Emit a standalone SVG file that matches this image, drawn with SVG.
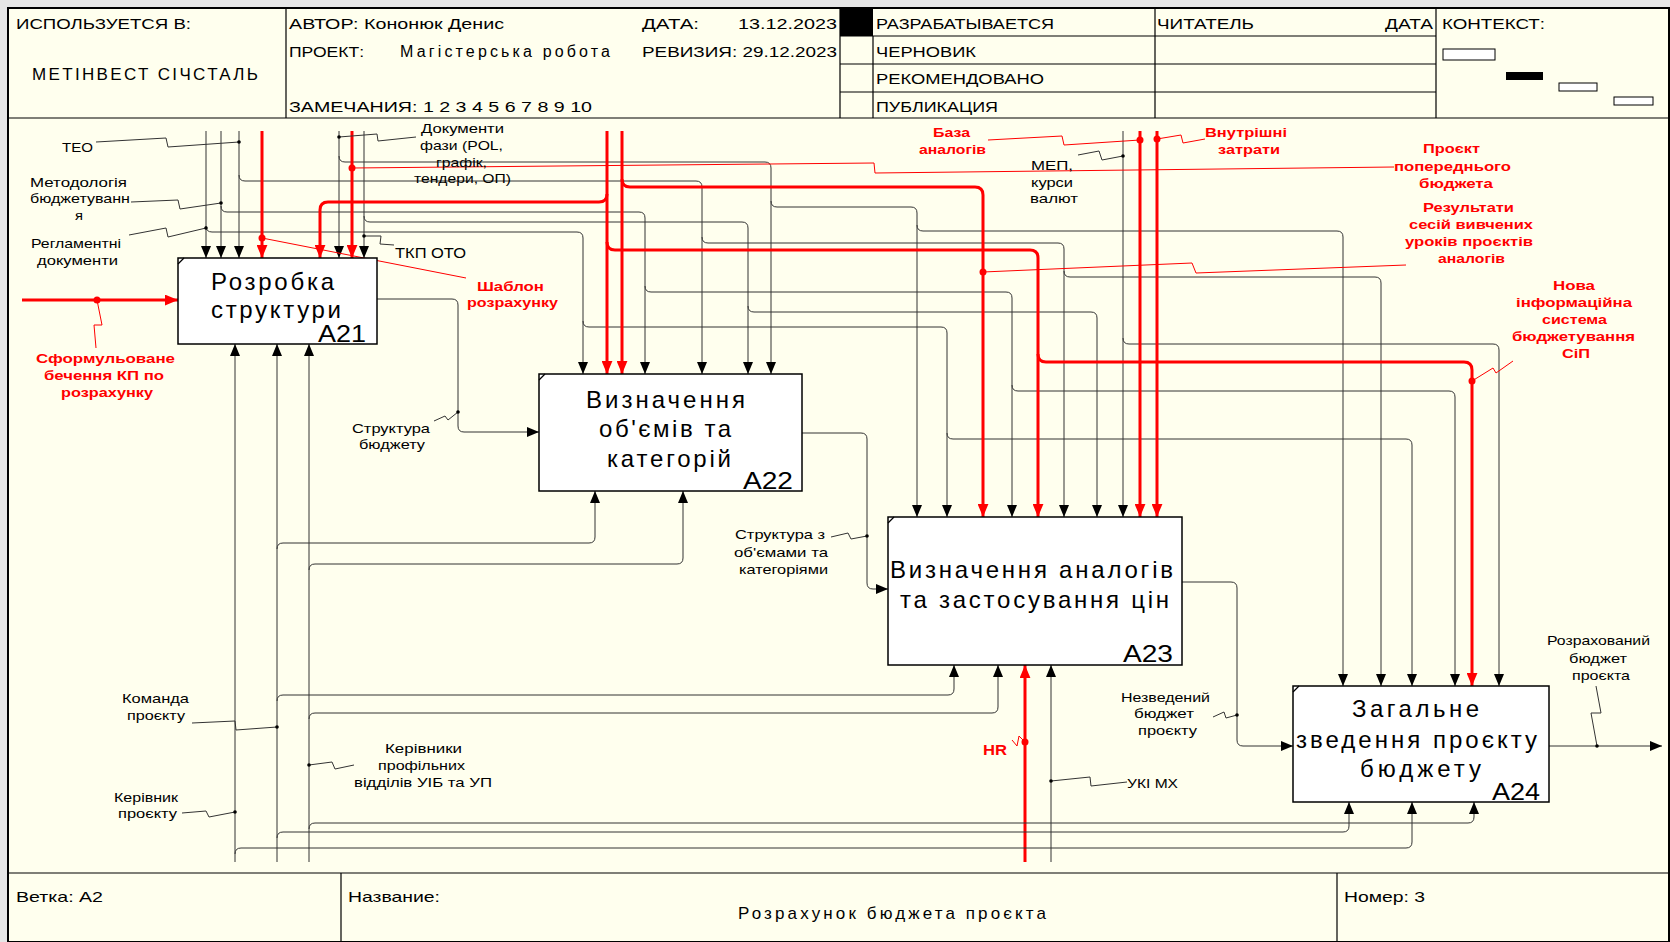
<svg xmlns="http://www.w3.org/2000/svg" width="1670" height="942" viewBox="0 0 1670 942">
<defs>
<marker id="ab" viewBox="0 0 12 10" refX="12" refY="5" markerWidth="12" markerHeight="10" markerUnits="userSpaceOnUse" orient="auto"><path d="M0,0 L12,5 L0,10 z" fill="#000"/></marker>
<marker id="ar" viewBox="0 0 12 10" refX="12" refY="5" markerWidth="13" markerHeight="11" markerUnits="userSpaceOnUse" orient="auto"><path d="M0,0 L12,5 L0,10 z" fill="#f00"/></marker>
</defs>
<style>
text{font-family:"Liberation Sans",Arial,sans-serif;fill:#000}
.h{font-size:14px}
.f{font-size:15px}
.l{font-size:13px}
.r{fill:#f00;font-weight:bold;font-size:13px}
.bt{font-size:24px}
.bn{font-size:24px}
.k{fill:none;stroke:#333;stroke-width:1}
.kr{fill:none;stroke:#f00;stroke-width:3}
.ld{fill:none;stroke:#333;stroke-width:1}
.lr{fill:none;stroke:#f00;stroke-width:1}
.box{fill:#fff;stroke:#000;stroke-width:1.5}
.ln{stroke:#000;stroke-width:1.2;fill:none}
</style>
<rect x="0" y="0" width="1670" height="942" fill="#e6e6e6"/>
<g id="frame">
<rect x="8" y="8" width="1661" height="934" fill="#ffffee" stroke="#000" stroke-width="2"/>
<path class="ln" d="M8 118 H1670 M8 873 H1670 M286 8 V118 M840 8 V118 M873 36 V118 M1155 8 V118 M1436 8 V118 M840 36 H1436 M840 64 H1436 M840 92 H1436 M341 873 V942 M1337 873 V942"/>
<rect x="840" y="8" width="33" height="28" fill="#000"/>
<rect x="1443" y="49" width="52" height="11" fill="#fff" stroke="#000" stroke-width="1"/>
<rect x="1506" y="72" width="37" height="8" fill="#000"/>
<rect x="1559" y="83" width="38" height="8" fill="#fff" stroke="#000" stroke-width="1"/>
<rect x="1614" y="97" width="39" height="8" fill="#fff" stroke="#000" stroke-width="1"/>
<text class="h" x="16" y="29" textLength="175" lengthAdjust="spacingAndGlyphs">ИСПОЛЬЗУЕТСЯ В:</text>
<text x="32" y="80" style="font-size:17px" textLength="226" lengthAdjust="spacing">МЕТІНВЕСТ СІЧСТАЛЬ</text>
<text class="h" x="289" y="29" textLength="215" lengthAdjust="spacingAndGlyphs">АВТОР: Кононюк Денис</text>
<text class="h" x="289" y="57" textLength="75" lengthAdjust="spacingAndGlyphs">ПРОЕКТ:</text>
<text x="400" y="57" style="font-size:16px" textLength="210" lengthAdjust="spacing">Магістерська робота</text>
<text class="h" x="642" y="29" textLength="57" lengthAdjust="spacingAndGlyphs">ДАТА:</text>
<text class="h" x="738" y="29" textLength="99" lengthAdjust="spacingAndGlyphs">13.12.2023</text>
<text class="h" x="642" y="57" textLength="195" lengthAdjust="spacingAndGlyphs">РЕВИЗИЯ: 29.12.2023</text>
<text class="h" x="289" y="112" textLength="303" lengthAdjust="spacingAndGlyphs">ЗАМЕЧАНИЯ: 1 2 3 4 5 6 7 8 9 10</text>
<text class="h" x="876" y="29" textLength="178" lengthAdjust="spacingAndGlyphs">РАЗРАБАТЫВАЕТСЯ</text>
<text class="h" x="876" y="57" textLength="100" lengthAdjust="spacingAndGlyphs">ЧЕРНОВИК</text>
<text class="h" x="876" y="84" textLength="168" lengthAdjust="spacingAndGlyphs">РЕКОМЕНДОВАНО</text>
<text class="h" x="876" y="112" textLength="122" lengthAdjust="spacingAndGlyphs">ПУБЛИКАЦИЯ</text>
<text class="h" x="1157" y="29" textLength="97" lengthAdjust="spacingAndGlyphs">ЧИТАТЕЛЬ</text>
<text class="h" x="1385" y="29" textLength="48" lengthAdjust="spacingAndGlyphs">ДАТА</text>
<text class="h" x="1442" y="29" textLength="103" lengthAdjust="spacingAndGlyphs">КОНТЕКСТ:</text>
<text class="f" x="16" y="902" textLength="87" lengthAdjust="spacingAndGlyphs">Ветка: А2</text>
<text class="f" x="348" y="902" textLength="92" lengthAdjust="spacingAndGlyphs">Название:</text>
<text x="738" y="919" style="font-size:17px" textLength="308" lengthAdjust="spacing">Розрахунок бюджета проєкта</text>
<text class="f" x="1344" y="902" textLength="81" lengthAdjust="spacingAndGlyphs">Номер: 3</text>
</g>
<g id="connectors">
<path class="k" marker-end="url(#ab)" d="M206 131 V258"/>
<path class="k" marker-end="url(#ab)" d="M206 226 Q206 232 212 232 H577 Q583 232 583 238 V374"/>
<path class="k" marker-end="url(#ab)" d="M583 321 Q583 327 589 327 H941 Q947 327 947 333 V517"/>
<path class="k" marker-end="url(#ab)" d="M947 433 Q947 439 953 439 H1406 Q1412 439 1412 445 V686"/>
<path class="k" marker-end="url(#ab)" d="M221 131 V258"/>
<path class="k" marker-end="url(#ab)" d="M221 206 Q221 212 227 212 H639 Q645 212 645 218 V374"/>
<path class="k" marker-end="url(#ab)" d="M645 286 Q645 292 651 292 H1006 Q1012 292 1012 298 V517"/>
<path class="k" marker-end="url(#ab)" d="M1012 385 Q1012 391 1018 391 H1449 Q1455 391 1455 397 V686"/>
<path class="k" marker-end="url(#ab)" d="M239 131 V258"/>
<path class="k" marker-end="url(#ab)" d="M239 175 Q239 181 245 181 H696 Q702 181 702 187 V374"/>
<path class="k" marker-end="url(#ab)" d="M702 237 Q702 243 708 243 H1058 Q1064 243 1064 249 V517"/>
<path class="k" marker-end="url(#ab)" d="M1064 271 Q1064 277 1070 277 H1375 Q1381 277 1381 283 V686"/>
<path class="k" marker-end="url(#ab)" d="M339 131 V258"/>
<path class="k" marker-end="url(#ab)" d="M339 156 Q339 162 345 162 H765 Q771 162 771 168 V374"/>
<path class="k" marker-end="url(#ab)" d="M771 201 Q771 207 777 207 H911 Q917 207 917 213 V517"/>
<path class="k" marker-end="url(#ab)" d="M917 225 Q917 231 923 231 H1337 Q1343 231 1343 237 V686"/>
<path class="k" marker-end="url(#ab)" d="M364 131 V258"/>
<path class="k" marker-end="url(#ab)" d="M364 216 Q364 222 370 222 H742 Q748 222 748 228 V374"/>
<path class="k" marker-end="url(#ab)" d="M748 306 Q748 312 754 312 H1091 Q1097 312 1097 318 V517"/>
<path class="k" marker-end="url(#ab)" d="M1123 131 V517"/>
<path class="k" marker-end="url(#ab)" d="M1123 338 Q1123 344 1129 344 H1493 Q1499 344 1499 350 V686"/>
<path class="kr" marker-end="url(#ar)" d="M262 131 V258"/>
<path class="kr" marker-end="url(#ar)" d="M352 131 V258"/>
<path class="kr" marker-end="url(#ar)" d="M607 131 V374"/>
<path class="kr" marker-end="url(#ar)" d="M607 194 Q607 202 599 202 H328 Q320 202 320 210 V258"/>
<path class="kr" marker-end="url(#ar)" d="M607 242 Q607 250 615 250 H1030 Q1038 250 1038 258 V517"/>
<path class="kr" marker-end="url(#ar)" d="M1038 354 Q1038 362 1046 362 H1464 Q1472 362 1472 370 V686"/>
<path class="kr" marker-end="url(#ar)" d="M622 131 V374"/>
<path class="kr" marker-end="url(#ar)" d="M622 179 Q622 187 630 187 H975 Q983 187 983 195 V517"/>
<path class="kr" marker-end="url(#ar)" d="M1140 131 V517"/>
<path class="kr" marker-end="url(#ar)" d="M1157 131 V517"/>
<path class="kr" marker-end="url(#ar)" d="M22 300 H178"/>
<path class="kr" marker-end="url(#ar)" d="M1025 862 V665"/>
<path class="k" marker-end="url(#ab)" d="M235 862 V344"/>
<path class="k" marker-end="url(#ab)" d="M235 854 Q235 848 241 848 H1406 Q1412 848 1412 842 V802"/>
<path class="k" marker-end="url(#ab)" d="M277 862 V344"/>
<path class="k" marker-end="url(#ab)" d="M277 549 Q277 543 283 543 H589 Q595 543 595 537 V491"/>
<path class="k" marker-end="url(#ab)" d="M277 701 Q277 695 283 695 H948 Q954 695 954 689 V665"/>
<path class="k" marker-end="url(#ab)" d="M277 838 Q277 832 283 832 H1343 Q1349 832 1349 826 V802"/>
<path class="k" marker-end="url(#ab)" d="M309 862 V344"/>
<path class="k" marker-end="url(#ab)" d="M309 570 Q309 564 315 564 H677 Q683 564 683 558 V491"/>
<path class="k" marker-end="url(#ab)" d="M309 719 Q309 713 315 713 H992 Q998 713 998 707 V665"/>
<path class="k" marker-end="url(#ab)" d="M309 829 Q309 823 315 823 H1468 Q1474 823 1474 817 V802"/>
<path class="k" marker-end="url(#ab)" d="M1051 862 V665"/>
<path class="k" marker-end="url(#ab)" d="M377 299 H452 Q458 299 458 305 V426 Q458 432 464 432 H539"/>
<path class="k" marker-end="url(#ab)" d="M802 433 H861 Q867 433 867 439 V583 Q867 589 873 589 H888"/>
<path class="k" marker-end="url(#ab)" d="M1182 582 H1231 Q1237 582 1237 588 V740 Q1237 746 1243 746 H1293"/>
<path class="k" marker-end="url(#ab)" d="M1549 746 H1662"/>
<path class="ld" d="M96 142 L166 138 L168 147 L239 142"/>
<path class="ld" d="M131 202 L178 200 L180 209 L221 203"/>
<path class="ld" d="M129 235 L166 228 L168 237 L206 228"/>
<path class="ld" d="M339 137 L377 134 L378 141 L416 137"/>
<path class="ld" d="M364 236 L381 236 L380 244 L394 245"/>
<path class="ld" d="M1123 156 L1102 160 L1099 151 L1078 155"/>
<path class="ld" d="M458 412 L448 420 L445 416 L434 421"/>
<path class="ld" d="M867 536 L851 539 L848 533 L831 537"/>
<path class="ld" d="M1237 715 L1226 718 L1224 712 L1213 717"/>
<path class="ld" d="M1597 746 L1591 713 L1601 713 L1596 686"/>
<path class="ld" d="M192 723 L235 721 L236 730 L277 727"/>
<path class="ld" d="M182 813 L206 811 L209 817 L235 812"/>
<path class="ld" d="M309 765 L332 762 L335 769 L354 765"/>
<path class="ld" d="M1051 781 L1090 777 L1091 786 L1127 782"/>
<path class="lr" d="M262 238 L364 258 L466 278"/>
<path class="lr" d="M97 300 L102 325 L94 325 L96 348"/>
<path class="lr" d="M352 168 L874 163 L875 173 L1394 167"/>
<path class="lr" d="M988 140 L1062 136 L1064 145 L1140 140"/>
<path class="lr" d="M1157 139 L1181 135 L1183 143 L1205 139"/>
<path class="lr" d="M983 272 L1192 263 L1196 273 L1406 265"/>
<path class="lr" d="M1472 381 L1493 368 L1496 373 L1513 361"/>
<path class="lr" d="M1025 742 L1019 736 L1017 746 L1012 740"/>
<g fill="#000">
<circle cx="239" cy="142" r="1.8"/><circle cx="221" cy="203" r="1.8"/><circle cx="206" cy="228" r="1.8"/>
<circle cx="339" cy="137" r="1.8"/><circle cx="364" cy="236" r="1.8"/><circle cx="458" cy="412" r="1.8"/>
<circle cx="867" cy="536" r="1.8"/><circle cx="1123" cy="156" r="1.8"/><circle cx="1237" cy="715" r="1.8"/>
<circle cx="1597" cy="746" r="1.8"/><circle cx="235" cy="812" r="1.8"/><circle cx="277" cy="727" r="1.8"/>
<circle cx="309" cy="765" r="1.8"/><circle cx="1051" cy="781" r="1.8"/>
</g>
<g fill="#f00">
<circle cx="97" cy="300" r="3.5"/><circle cx="262" cy="238" r="3.5"/><circle cx="352" cy="168" r="3.5"/>
<circle cx="983" cy="272" r="3.5"/><circle cx="1472" cy="381" r="3.5"/><circle cx="1140" cy="140" r="3.5"/>
<circle cx="1157" cy="139" r="3.5"/><circle cx="1025" cy="742" r="3.5"/>
</g>
</g>
<g id="A21">
<rect class="box" x="178" y="258" width="199" height="86"/>
<path class="ln" d="M178 264 L184 258"/>
<text class="bt" x="211" y="290" textLength="123" lengthAdjust="spacing">Розробка</text>
<text class="bt" x="211" y="318" textLength="130" lengthAdjust="spacing">структури</text>
<text class="bn" x="318" y="342" textLength="48" lengthAdjust="spacingAndGlyphs">A21</text>
</g>
<g id="A22">
<rect class="box" x="539" y="374" width="263" height="117"/>
<path class="ln" d="M539 380 L545 374"/>
<text class="bt" x="586" y="408" textLength="159" lengthAdjust="spacing">Визначення</text>
<text class="bt" x="599" y="437" textLength="132" lengthAdjust="spacing">об'ємів та</text>
<text class="bt" x="607" y="467" textLength="124" lengthAdjust="spacing">категорій</text>
<text class="bn" x="743" y="489" textLength="50" lengthAdjust="spacingAndGlyphs">A22</text>
</g>
<g id="A23">
<rect class="box" x="888" y="517" width="294" height="148"/>
<path class="ln" d="M888 523 L894 517"/>
<text class="bt" x="890" y="578" textLength="283" lengthAdjust="spacing">Визначення аналогів</text>
<text class="bt" x="900" y="608" textLength="269" lengthAdjust="spacing">та застосування цін</text>
<text class="bn" x="1123" y="662" textLength="50" lengthAdjust="spacingAndGlyphs">A23</text>
</g>
<g id="A24">
<rect class="box" x="1293" y="686" width="256" height="116"/>
<path class="ln" d="M1293 692 L1299 686"/>
<text class="bt" x="1352" y="717" textLength="127" lengthAdjust="spacing">Загальне</text>
<text class="bt" x="1296" y="748" textLength="241" lengthAdjust="spacing">зведення проєкту</text>
<text class="bt" x="1360" y="777" textLength="121" lengthAdjust="spacing">бюджету</text>
<text class="bn" x="1492" y="800" textLength="48" lengthAdjust="spacingAndGlyphs">A24</text>
</g>
<g id="labels">
<text class="l" x="62" y="152" textLength="31" lengthAdjust="spacingAndGlyphs">ТЕО</text>
<text class="l" x="30" y="187" textLength="97" lengthAdjust="spacingAndGlyphs">Методологія</text>
<text class="l" x="30" y="203" textLength="100" lengthAdjust="spacingAndGlyphs">бюджетуванн</text>
<text class="l" x="75" y="220" textLength="8" lengthAdjust="spacingAndGlyphs">я</text>
<text class="l" x="31" y="248" textLength="90" lengthAdjust="spacingAndGlyphs">Регламентні</text>
<text class="l" x="37" y="265" textLength="81" lengthAdjust="spacingAndGlyphs">документи</text>
<text class="l" x="421" y="133" textLength="83" lengthAdjust="spacingAndGlyphs">Документи</text>
<text class="l" x="420" y="150" textLength="83" lengthAdjust="spacingAndGlyphs">фази (POL,</text>
<text class="l" x="436" y="167" textLength="51" lengthAdjust="spacingAndGlyphs">графік,</text>
<text class="l" x="414" y="183" textLength="97" lengthAdjust="spacingAndGlyphs">тендери, ОП)</text>
<text class="l" x="395" y="258" textLength="71" lengthAdjust="spacingAndGlyphs" style="font-size:14px">ТКП ОТО</text>
<text class="r" x="477" y="291" textLength="67" lengthAdjust="spacingAndGlyphs">Шаблон</text>
<text class="r" x="467" y="307" textLength="91" lengthAdjust="spacingAndGlyphs">розрахунку</text>
<text class="r" x="36" y="363" textLength="139" lengthAdjust="spacingAndGlyphs">Сформульоване</text>
<text class="r" x="44" y="380" textLength="120" lengthAdjust="spacingAndGlyphs">бечення КП по</text>
<text class="r" x="61" y="397" textLength="92" lengthAdjust="spacingAndGlyphs">розрахунку</text>
<text class="l" x="352" y="433" textLength="78" lengthAdjust="spacingAndGlyphs">Структура</text>
<text class="l" x="359" y="449" textLength="66" lengthAdjust="spacingAndGlyphs">бюджету</text>
<text class="l" x="735" y="539" textLength="90" lengthAdjust="spacingAndGlyphs">Структура з</text>
<text class="l" x="734" y="557" textLength="94" lengthAdjust="spacingAndGlyphs">об'ємами та</text>
<text class="l" x="739" y="574" textLength="89" lengthAdjust="spacingAndGlyphs">категоріями</text>
<text class="l" x="1031" y="170" textLength="42" lengthAdjust="spacingAndGlyphs">МЕП,</text>
<text class="l" x="1031" y="187" textLength="42" lengthAdjust="spacingAndGlyphs">курси</text>
<text class="l" x="1030" y="203" textLength="48" lengthAdjust="spacingAndGlyphs">валют</text>
<text class="r" x="933" y="137" textLength="37" lengthAdjust="spacingAndGlyphs">База</text>
<text class="r" x="919" y="154" textLength="67" lengthAdjust="spacingAndGlyphs">аналогів</text>
<text class="r" x="1205" y="137" textLength="82" lengthAdjust="spacingAndGlyphs">Внутрішні</text>
<text class="r" x="1218" y="154" textLength="62" lengthAdjust="spacingAndGlyphs">затрати</text>
<text class="r" x="1423" y="153" textLength="57" lengthAdjust="spacingAndGlyphs">Проєкт</text>
<text class="r" x="1394" y="171" textLength="117" lengthAdjust="spacingAndGlyphs">попереднього</text>
<text class="r" x="1419" y="188" textLength="74" lengthAdjust="spacingAndGlyphs">бюджета</text>
<text class="r" x="1423" y="212" textLength="91" lengthAdjust="spacingAndGlyphs">Результати</text>
<text class="r" x="1409" y="229" textLength="124" lengthAdjust="spacingAndGlyphs">сесій вивчених</text>
<text class="r" x="1405" y="246" textLength="128" lengthAdjust="spacingAndGlyphs">уроків проєктів</text>
<text class="r" x="1438" y="263" textLength="67" lengthAdjust="spacingAndGlyphs">аналогів</text>
<text class="r" x="1553" y="290" textLength="42" lengthAdjust="spacingAndGlyphs">Нова</text>
<text class="r" x="1516" y="307" textLength="116" lengthAdjust="spacingAndGlyphs">інформаційна</text>
<text class="r" x="1542" y="324" textLength="65" lengthAdjust="spacingAndGlyphs">система</text>
<text class="r" x="1512" y="341" textLength="123" lengthAdjust="spacingAndGlyphs">бюджетування</text>
<text class="r" x="1562" y="358" textLength="28" lengthAdjust="spacingAndGlyphs">СіП</text>
<text class="l" x="122" y="703" textLength="67" lengthAdjust="spacingAndGlyphs">Команда</text>
<text class="l" x="127" y="720" textLength="58" lengthAdjust="spacingAndGlyphs">проєкту</text>
<text class="l" x="114" y="802" textLength="64" lengthAdjust="spacingAndGlyphs">Керівник</text>
<text class="l" x="118" y="818" textLength="59" lengthAdjust="spacingAndGlyphs">проєкту</text>
<text class="l" x="385" y="753" textLength="77" lengthAdjust="spacingAndGlyphs">Керівники</text>
<text class="l" x="378" y="770" textLength="87" lengthAdjust="spacingAndGlyphs">профільних</text>
<text class="l" x="354" y="787" textLength="138" lengthAdjust="spacingAndGlyphs">відділів УІБ та УП</text>
<text class="r" x="983" y="755" textLength="24" lengthAdjust="spacingAndGlyphs" style="font-size:14px">HR</text>
<text class="l" x="1127" y="788" textLength="51" lengthAdjust="spacingAndGlyphs">УКІ МХ</text>
<text class="l" x="1121" y="702" textLength="89" lengthAdjust="spacingAndGlyphs">Незведений</text>
<text class="l" x="1134" y="718" textLength="60" lengthAdjust="spacingAndGlyphs">бюджет</text>
<text class="l" x="1138" y="735" textLength="59" lengthAdjust="spacingAndGlyphs">проєкту</text>
<text class="l" x="1547" y="645" textLength="103" lengthAdjust="spacingAndGlyphs">Розрахований</text>
<text class="l" x="1569" y="663" textLength="58" lengthAdjust="spacingAndGlyphs">бюджет</text>
<text class="l" x="1572" y="680" textLength="58" lengthAdjust="spacingAndGlyphs">проєкта</text>
</g>
</svg>
